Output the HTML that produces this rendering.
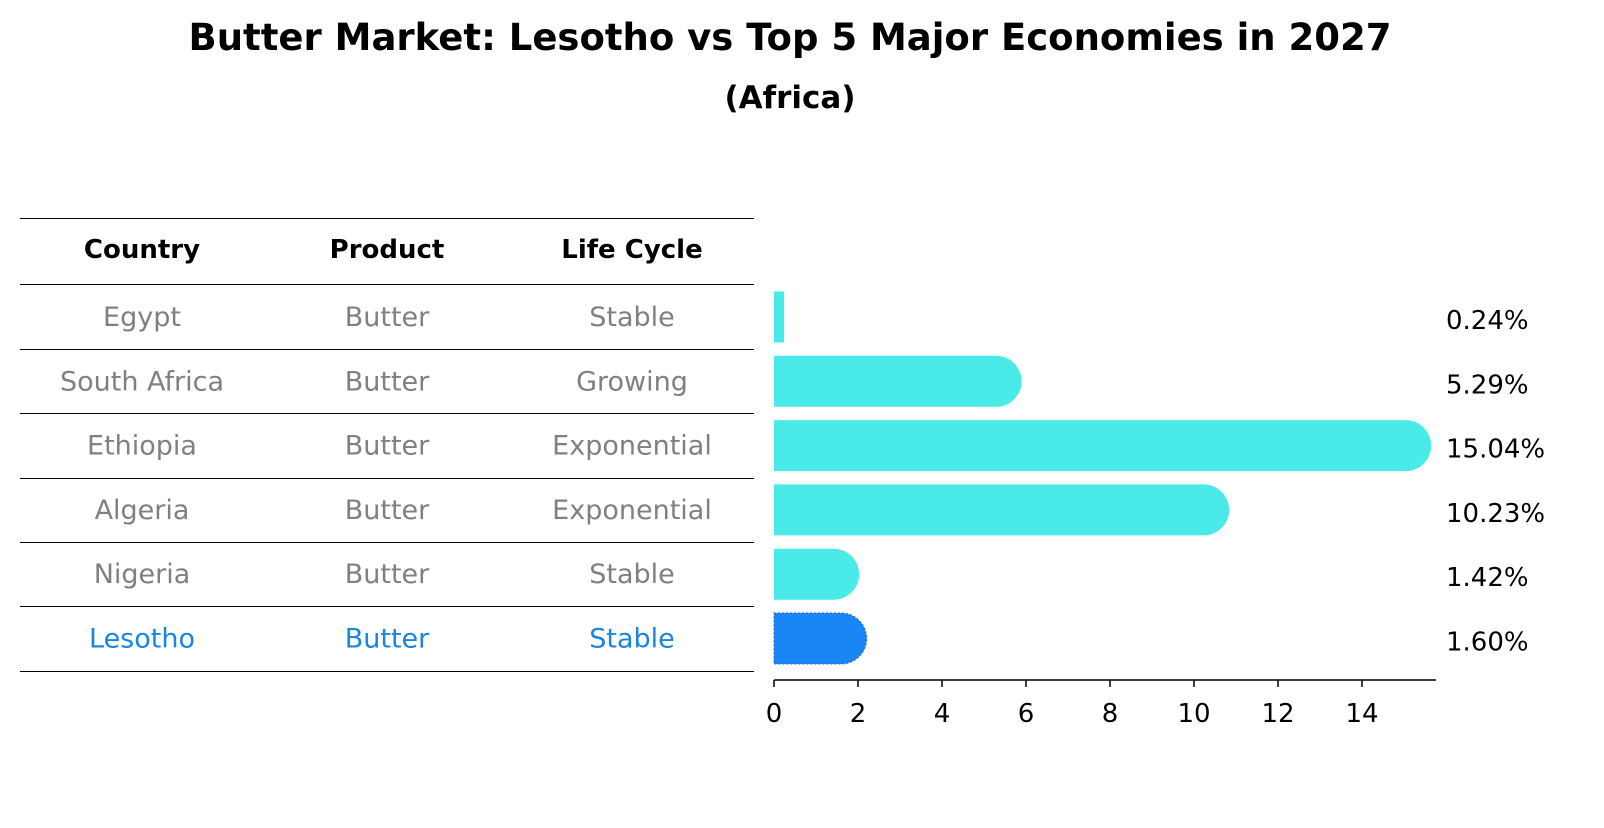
<!DOCTYPE html>
<html><head><meta charset="utf-8"><style>
body{margin:0;background:#fff;font-family:"Liberation Sans","DejaVu Sans",sans-serif;}
svg text{font-family:"DejaVu Sans","Liberation Sans",sans-serif;}
</style></head><body>
<svg id="c" width="1604" height="823" xmlns="http://www.w3.org/2000/svg">
<text x="790" y="50" text-anchor="middle" font-size="37" font-weight="bold">Butter Market: Lesotho vs Top 5 Major Economies in 2027</text>
<text x="790" y="108" text-anchor="middle" font-size="31" font-weight="bold">(Africa)</text>
<g id="tbl"></g>
<g id="bars"></g>
</svg>
<script>
const countries=["Egypt","South Africa","Ethiopia","Algeria","Nigeria","Lesotho"];
const products=["Butter","Butter","Butter","Butter","Butter","Butter"];
const lifeCycles=["Stable","Growing","Exponential","Exponential","Stable","Stable"];
const shares=[0.24,5.29,15.04,10.23,1.42,1.60];
const ticks=[0,2,4,6,8,10,12,14];
const NS="http://www.w3.org/2000/svg";
const tbl=document.getElementById('tbl');
const bars=document.getElementById('bars');
function mk(t,a,p){const e=document.createElementNS(NS,t);for(const k in a)e.setAttribute(k,a[k]);p.appendChild(e);return e;}
const x0=774,ppu=42,rowY0=317,rowH=64.3,barH=51;
const xs=v=>x0+v*ppu;
const ys=i=>rowY0+i*rowH;
const lineYs=[218,284];
for(let i=0;i<countries.length;i++)lineYs.push(Math.round(ys(i)+rowH/2));
lineYs.forEach(y=>{const l=mk('line',{x1:20,x2:754,y1:y+0.5,y2:y+0.5,stroke:'#000','stroke-width':1},tbl);

});
const cols=[142,387,632];
["Country","Product","Life Cycle"].forEach((h,j)=>{const t=mk('text',{x:cols[j],y:258,'text-anchor':'middle','font-size':26,'font-weight':'bold'},tbl);t.textContent=h;

});
countries.forEach((c,i)=>{const col=c==="Lesotho"?"#1a85e0":"#808080";
[c,products[i],lifeCycles[i]].forEach((v,j)=>{const t=mk('text',{x:cols[j],y:ys(i)+9,'text-anchor':'middle','font-size':27,fill:col},tbl);t.textContent=v;

});});
const r=barH/2;
shares.forEach((v,i)=>{const hi=countries[i]==="Lesotho";const fill=hi?"#1a85f5":"#4aeae8";
const y=ys(i)-r;const w=xs(v)-x0;let d;
if(w<r){d=`M${x0},${y}h${w}v${barH}h${-w}z`;}
else{d=`M${x0},${y}h${w}a${r},${r} 0 0 1 0,${barH}h${-w}z`;}
const p=mk('path',{d:d,fill:fill},bars);
if(hi){p.setAttribute('stroke','#1a6fd0');p.setAttribute('stroke-dasharray','2,2');p.setAttribute('stroke-width','1');}


const t=mk('text',{x:1446,y:ys(i)+12,'font-size':26},bars);t.textContent=v.toFixed(2)+'%';

});
const ax=mk('line',{x1:x0,x2:1436,y1:680,y2:680,stroke:'#000','stroke-width':1.5},bars);


ticks.forEach(tv=>{const tk=mk('line',{x1:xs(tv),x2:xs(tv),y1:680,y2:687,stroke:'#000','stroke-width':1.5},bars);


const t=mk('text',{x:xs(tv),y:722,'text-anchor':'middle','font-size':26},bars);t.textContent=tv;

});
</script>
</body></html>
